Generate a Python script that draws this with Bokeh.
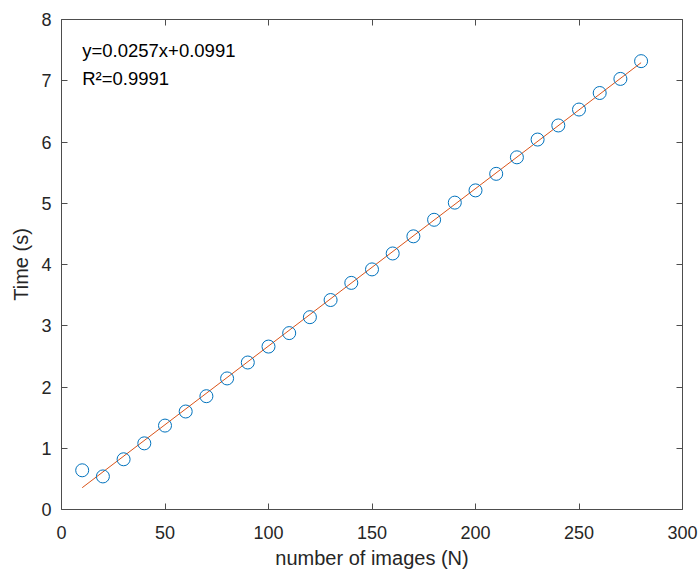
from bokeh.plotting import figure
from bokeh.models import Range1d, LinearAxis, FixedTicker, ColumnDataSource, CustomLabelingPolicy
from bokeh.core.properties import value
from bokeh.embed import file_html
from bokeh.resources import INLINE

# ---- data ----
n_images = [10, 20, 30, 40, 50, 60, 70, 80, 90, 100, 110, 120, 130, 140,
            150, 160, 170, 180, 190, 200, 210, 220, 230, 240, 250, 260, 270, 280]
time_s = [0.64, 0.54, 0.82, 1.08, 1.37, 1.60, 1.85, 2.14, 2.40, 2.66, 2.88, 3.14,
          3.42, 3.70, 3.92, 4.18, 4.46, 4.73, 5.01, 5.21, 5.48, 5.75, 6.04, 6.27,
          6.53, 6.80, 7.03, 7.32]
fit_slope = 0.0257
fit_intercept = 0.0991
fit_label = "y=0.0257x+0.0991"
r2_label = "R\u00b2=0.9991"
x_ticks = [0, 50, 100, 150, 200, 250, 300]
y_ticks = [0, 1, 2, 3, 4, 5, 6, 7, 8]
x_label = "number of images (N)"
y_label = "Time (s)"

FONT = "Liberation Sans"
AX = "#262626"
LINE = "#4d4d4d"

p = figure(frame_width=621, frame_height=490,
           x_range=Range1d(0, 300), y_range=Range1d(0, 8),
           output_backend="svg", toolbar_location=None,
           min_border_left=61, min_border_right=16,
           min_border_top=19, min_border_bottom=63,
           background_fill_color="white", border_fill_color="white")
p.outline_line_color = None
p.xgrid.visible = False
p.ygrid.visible = False

def style(ax, ticks, labels=True):
    ax.ticker = FixedTicker(ticks=ticks)
    ax.major_tick_in = 6
    ax.major_tick_out = 0
    ax.minor_tick_in = 0
    ax.minor_tick_out = 0
    ax.axis_line_color = LINE
    ax.axis_line_width = 1
    ax.major_tick_line_color = LINE
    ax.major_label_text_font = FONT
    ax.major_label_text_color = AX
    ax.axis_label_text_font = FONT
    ax.axis_label_text_color = AX
    ax.axis_label_text_font_style = "normal"
    ax.major_label_text_font_size = "18px"
    ax.axis_label_text_font_size = "20px"
    if not labels:
        ax.major_label_standoff = 0
        ax.major_label_policy = CustomLabelingPolicy(code="return new Set()")

style(p.xaxis[0], x_ticks)
style(p.yaxis[0], y_ticks)
p.xaxis[0].axis_label = x_label
p.yaxis[0].axis_label = y_label
p.xaxis[0].major_label_standoff = 16
p.xaxis[0].axis_label_standoff = 5
p.yaxis[0].major_label_standoff = 10
p.yaxis[0].axis_label_standoff = 6

top = LinearAxis()
style(top, x_ticks, labels=False)
p.add_layout(top, "above")
right = LinearAxis()
style(right, y_ticks, labels=False)
p.add_layout(right, "right")

# fitted line
fit_x = [min(n_images), max(n_images)]
fit_y = [fit_slope * v + fit_intercept for v in fit_x]
p.line(fit_x, fit_y, line_color="#D95319", line_width=1)

# data markers
src = ColumnDataSource(dict(x=n_images, y=time_s))
p.scatter("x", "y", source=src, marker="circle", size=13,
          fill_color=None, line_color="#0072BD", line_width=1)

# annotations
p.text(x=[10, 10], y=[7.5, 7.04], text=[fit_label, r2_label],
       text_font=value(FONT), text_font_size="18.5px", text_color="#000000",
       text_baseline="middle", text_align="left")

open("out.html", "w").write(file_html(p, INLINE))
